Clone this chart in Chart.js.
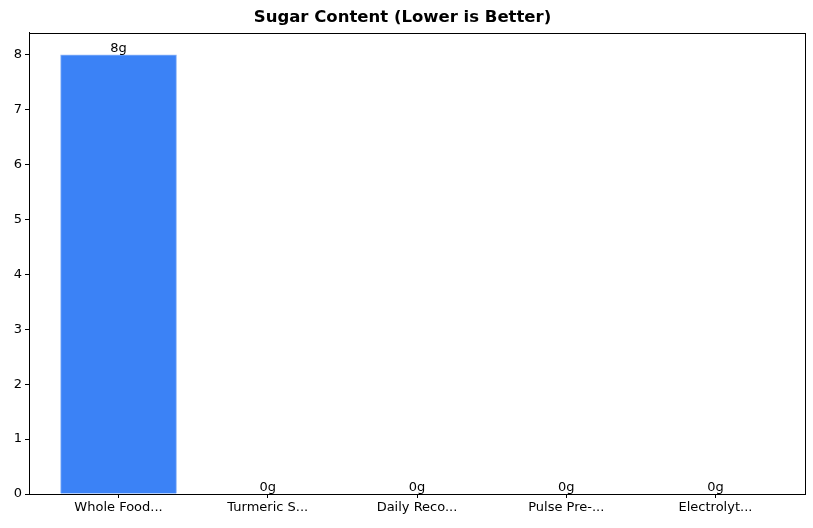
<!DOCTYPE html>
<html><head><meta charset="utf-8">
<script src="https://cdn.jsdelivr.net/npm/chart.js@4/dist/chart.umd.min.js"></script>
<style>html,body{margin:0;padding:0;background:#fff}#w{width:813px;height:528px}</style>
</head><body><div id="w"><canvas id="c" width="813" height="528"></canvas></div>
<script>
const categories = ["Whole Food...", "Turmeric S...", "Daily Reco...", "Pulse Pre-...", "Electrolyt..."];
const sugarValues = [8, 0, 0, 0, 0];
const valueLabels = ["8g", "0g", "0g", "0g", "0g"];
const yTicks = [0,1,2,3,4,5,6,7,8];

const font = {family: "DejaVu Sans", size: 13};
const frame = {
  id: 'frame',
  afterDatasetsDraw(chart) {
    const {ctx, chartArea: a} = chart;
    ctx.save();
    ctx.strokeStyle = '#000'; ctx.lineWidth = 1;
    ctx.strokeRect(Math.round(a.left)+0.5, Math.round(a.top)+0.5, Math.round(a.right-a.left), Math.round(a.bottom-a.top));
    ctx.font = "13px 'DejaVu Sans'"; ctx.fillStyle = '#000'; ctx.textAlign = 'center'; ctx.textBaseline = 'bottom';
    const meta = chart.getDatasetMeta(0);
    meta.data.forEach((b, i) => ctx.fillText(valueLabels[i], b.x, b.y));
    ctx.restore();
  }
};
new Chart(document.getElementById('c'), {
  type: 'bar',
  data: { datasets: [{
    data: sugarValues.map((v, i) => ({x: i, y: v})),
    backgroundColor: '#3b82f6', borderColor: '#93b9f8', borderWidth: 1,
    barThickness: 116
  }]},
  options: {
    responsive: false, animation: false,
    layout: {padding: {left: 0, right: 8, top: 0, bottom: 0}},
    plugins: {
      legend: {display: false}, tooltip: {enabled: false},
      title: {display: true, text: 'Sugar Content (Lower is Better)', color: '#000',
        font: {family: "DejaVu Sans", size: 16.5, weight: 'bold'}, padding: {top: 8, bottom: 5}}
    },
    scales: {
      x: {
        type: 'linear', min: -0.6, max: 4.6, offset: false,
        afterBuildTicks: s => { s.ticks = categories.map((c, i) => ({value: i})); },
        ticks: {color: '#000', font, autoSkip: false, maxRotation: 0, padding: 2,
          callback: v => categories[v]},
        grid: {drawOnChartArea: false, offset: false, tickLength: 4, color: '#000'},
        border: {color: '#000'},
        afterFit: s => { s.height = 34; }
      },
      y: {
        min: 0, max: 8.4,
        afterBuildTicks: s => { s.ticks = yTicks.map(v => ({value: v})); },
        ticks: {color: '#000', font, padding: 3},
        grid: {drawOnChartArea: false, tickLength: 4, color: '#000'},
        border: {color: '#000'},
        afterFit: s => { s.width = 29; }
      }
    }
  },
  plugins: [frame]
});
</script></body></html>
